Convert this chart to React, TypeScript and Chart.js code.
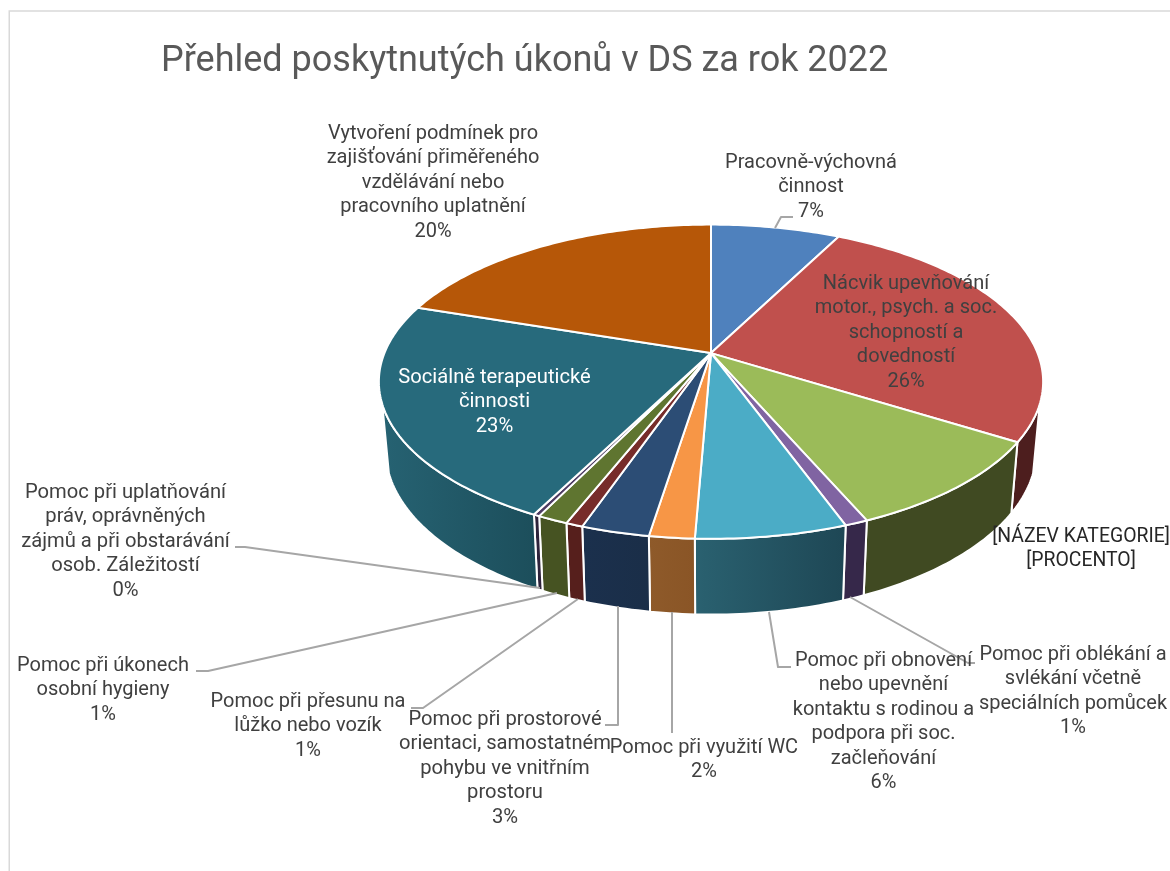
import React, { useEffect, useRef } from "react";
import { Chart, registerables } from "chart.js";

Chart.register(...registerables);

const chartTitle = "Přehled poskytnutých úkonů v DS za rok 2022";

const categories = [
  "Pracovně-výchovná činnost",
  "Nácvik upevňování motor., psych. a soc. schopností a dovedností",
  "[NÁZEV KATEGORIE]",
  "Pomoc při oblékání a svlékání včetně speciálních pomůcek",
  "Pomoc při obnovení nebo upevnění kontaktu s rodinou a podpora při soc. začleňování",
  "Pomoc při využití WC",
  "Pomoc při prostorové orientaci, samostatném pohybu ve vnitřním prostoru",
  "Pomoc při přesunu na lůžko nebo vozík",
  "Pomoc při úkonech osobní hygieny",
  "Pomoc při uplatňování práv, oprávněných zájmů a při obstarávání osob. Záležitostí",
  "Sociálně terapeutické činnosti",
  "Vytvoření podmínek pro zajišťování přiměřeného vzdělávání nebo pracovního uplatnění",
];

const values = [7.5, 26.4, 9.6, 0.95, 6.2, 1.85, 2.8, 0.7, 1.26, 0.25, 22.6, 19.9];

const topColors = ["#4f81bd", "#c0504d", "#9bbb59", "#8064a2", "#4bacc6", "#f79646", "#2c4d75", "#772c2a", "#5f7530", "#4d3b62", "#276a7c", "#b65708"];
const wallColorsLeft = ["#2f4d71", "#4d1e1e", "#404a22", "#36284a", "#2a6170", "#8e5a2a", "#1b304d", "#561f1c", "#465322", "#2e233b", "#266272", "#6d3405"];
const wallColorsRight = ["#2f4d71", "#4d1e1e", "#404a22", "#36284a", "#1e4755", "#8a5526", "#1a2e48", "#561f1c", "#465322", "#2e233b", "#1c4e5b", "#6d3405"];

const labelLines = [
  ["Pracovně-výchovná", "činnost", "7%"],
  ["Nácvik upevňování", "motor., psych. a soc.", "schopností a", "dovedností", "26%"],
  ["[NÁZEV KATEGORIE]", "[PROCENTO]"],
  ["Pomoc při oblékání a", "svlékání včetně", "speciálních pomůcek", "1%"],
  ["Pomoc při obnovení", "nebo upevnění", "kontaktu s rodinou a", "podpora při soc.", "začleňování", "6%"],
  ["Pomoc při využití WC", "2%"],
  ["Pomoc při prostorové", "orientaci, samostatném", "pohybu ve vnitřním", "prostoru", "3%"],
  ["Pomoc při přesunu na", "lůžko nebo vozík", "1%"],
  ["Pomoc při úkonech", "osobní hygieny", "1%"],
  ["Pomoc při uplatňování", "práv, oprávněných", "zájmů a při obstarávání", "osob. Záležitostí", "0%"],
  ["Sociálně terapeutické", "činnosti", "23%"],
  ["Vytvoření podmínek pro", "zajišťování přiměřeného", "vzdělávání nebo", "pracovního uplatnění", "20%"],
];

// Layout of the data labels: centre x, the y of the first line, and font size
const labelX = [811, 906, 1081, 1073, 883.5, 704, 505, 308, 103, 125.5, 494.5, 433];
const labelY = [163, 284, 537, 655, 661, 748, 720, 702, 666, 493, 378, 134];
const labelSizes = [20, 20, 19.4, 20, 20, 20, 20.2, 20, 20, 20.2, 20.2, 20];
const labelColors = ["#404040", "#404040", "#262626", "#404040", "#404040", "#404040", "#404040", "#404040", "#404040", "#404040", "#ffffff", "#404040"];

// Leader lines, drawn under the labels
const leaderLines: number[][][] = [
  [[775, 228], [781, 217], [793, 217]],
  [],
  [],
  [[850, 597], [968, 663], [975, 663]],
  [[769, 612], [778, 667], [791, 667]],
  [[672, 612], [672, 733]],
  [[618, 606], [618, 725], [605, 725]],
  [[578, 599], [423, 708], [411, 708]],
  [[557, 593], [208, 671], [196, 671]],
  [[540, 588], [245, 547], [235, 547]],
  [],
  [],
];

const FONT = "Roboto, 'Liberation Sans', sans-serif";
const LINE_HEIGHT = 24.4;
const TITLE_LEFT = 161;

// Perspective of the tilted pie
const K = 0.182;
const STRETCH_X = 2.15;
const BASE_SCALE_X = 0.98;
const BASE_SCALE_Y = 1.05;
const BASE_DROP = 66.5;
const WALL_START = 18.5 * (Math.PI / 180);
const WALL_END = Math.PI - WALL_START;

type Pt = [number, number];

const threeDPie = {
  id: "threeDPie",
  beforeDraw(chart: any) {
    const { ctx, width, height } = chart;
    if (chart.titleBlock) chart.titleBlock.left = TITLE_LEFT;
    ctx.save();
    ctx.strokeStyle = "#d9d9d9";
    ctx.lineWidth = 1.5;
    ctx.beginPath();
    ctx.moveTo(9.25, height);
    ctx.lineTo(9.25, 11);
    ctx.lineTo(width, 11);
    ctx.stroke();
    ctx.restore();
  },
  beforeDatasetsDraw(chart: any) {
    const { ctx } = chart;
    const arcs = chart.getDatasetMeta(0).data;
    const first = arcs[0];
    const cx = first.x;
    const cy = first.y;
    const R = first.outerRadius;
    const rim = (a: number): Pt => {
      const d = 1 - K * Math.sin(a);
      return [cx + (STRETCH_X * R * Math.cos(a)) / d, cy + (R * Math.sin(a)) / d];
    };
    const base = (p: Pt): Pt => [cx + BASE_SCALE_X * (p[0] - cx), cy + BASE_DROP + BASE_SCALE_Y * (p[1] - cy)];
    const steps = (a0: number, a1: number) => Math.max(2, Math.ceil(Math.abs(a1 - a0) * 60));

    ctx.save();
    ctx.lineJoin = "round";

    // Walls
    arcs.forEach((arc: any, i: number) => {
      const a0 = Math.max(arc.startAngle, WALL_START);
      const a1 = Math.min(arc.endAngle, WALL_END);
      if (a1 <= a0) return;
      const n = steps(a0, a1);
      const upper: Pt[] = [];
      for (let s = 0; s <= n; s++) upper.push(rim(a0 + ((a1 - a0) * s) / n));
      const lower = upper.map(base);
      const xs = upper.concat(lower).map((p) => p[0]);
      const g = ctx.createLinearGradient(Math.min(...xs), 0, Math.max(...xs), 0);
      g.addColorStop(0, wallColorsLeft[i]);
      g.addColorStop(1, wallColorsRight[i]);
      ctx.beginPath();
      upper.forEach((p, j) => (j ? ctx.lineTo(p[0], p[1]) : ctx.moveTo(p[0], p[1])));
      lower.reverse().forEach((p) => ctx.lineTo(p[0], p[1]));
      ctx.closePath();
      ctx.fillStyle = g;
      ctx.fill();
      ctx.strokeStyle = "#ffffff";
      ctx.lineWidth = 2;
      ctx.stroke();
    });

    // Top face
    arcs.forEach((arc: any) => {
      const a0 = arc.startAngle;
      const a1 = arc.endAngle;
      const n = steps(a0, a1);
      ctx.beginPath();
      ctx.moveTo(cx, cy);
      for (let s = 0; s <= n; s++) {
        const p = rim(a0 + ((a1 - a0) * s) / n);
        ctx.lineTo(p[0], p[1]);
      }
      ctx.closePath();
      ctx.fillStyle = arc.options.backgroundColor;
      ctx.fill();
      ctx.strokeStyle = "#ffffff";
      ctx.lineWidth = 2;
      ctx.stroke();
    });
    ctx.restore();
    return false;
  },
  afterDraw(chart: any) {
    const { ctx } = chart;
    ctx.save();
    ctx.strokeStyle = "#a6a6a6";
    ctx.lineWidth = 2;
    ctx.lineJoin = "round";
    leaderLines.forEach((line) => {
      if (!line.length) return;
      ctx.beginPath();
      line.forEach((p, j) => (j ? ctx.lineTo(p[0], p[1]) : ctx.moveTo(p[0], p[1])));
      ctx.stroke();
    });
    ctx.textAlign = "center";
    ctx.textBaseline = "middle";
    labelLines.forEach((lines, i) => {
      ctx.font = `${labelSizes[i]}px ${FONT}`;
      ctx.fillStyle = labelColors[i];
      lines.forEach((t, j) => ctx.fillText(t, labelX[i], labelY[i] + j * LINE_HEIGHT));
    });
    ctx.restore();
  },
};

export default function App() {
  const ref = useRef<HTMLCanvasElement>(null);
  useEffect(() => {
    const chart = new Chart(ref.current as HTMLCanvasElement, {
      type: "pie",
      data: {
        labels: categories,
        datasets: [{ data: values, backgroundColor: topColors, borderWidth: 0 }],
      },
      options: {
        responsive: false,
        animation: false,
        layout: { padding: { left: 252, right: 0, top: 40, bottom: 366 } },
        plugins: {
          legend: { display: false },
          tooltip: { enabled: false },
          title: {
            display: true,
            text: chartTitle,
            align: "start",
            color: "#595959",
            font: { family: FONT, size: 36, weight: "normal", lineHeight: 1.2 },
            padding: { top: 0, bottom: 118 },
          },
        },
      },
      plugins: [threeDPie],
    } as any);
    return () => chart.destroy();
  }, []);
  return (
    <div style={{ position: "fixed", left: 0, top: 0, width: 1170, height: 871, background: "#fff" }}>
      <canvas ref={ref} width={1170} height={871} style={{ display: "block" }} />
    </div>
  );
}
